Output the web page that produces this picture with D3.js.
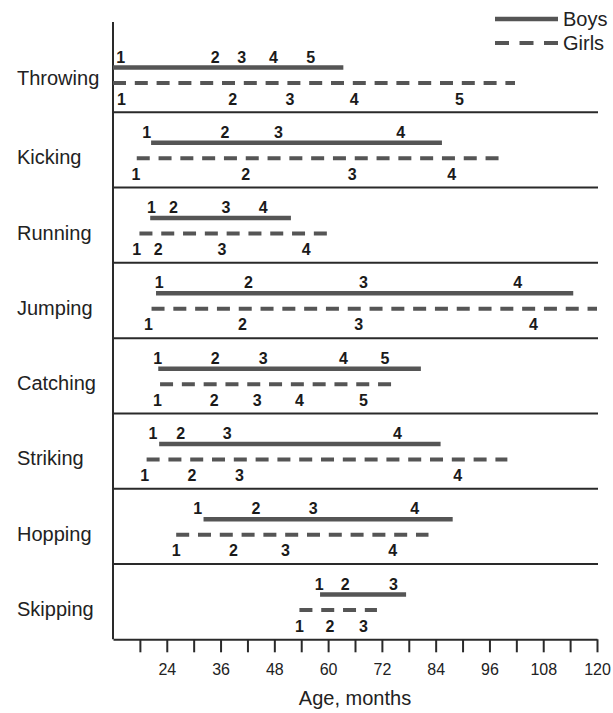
<!DOCTYPE html>
<html>
<head>
<meta charset="utf-8">
<script src="https://cdn.jsdelivr.net/npm/d3@7"></script>
<style>
  html, body { margin: 0; padding: 0; background: #fff; }
  svg { display: block; font-family: "Liberation Sans", Arial, Helvetica, sans-serif; }
</style>
</head>
<body>
<svg id="chart" width="613" height="713"></svg>
<script>
// ---- data (ages in months) ----
const categories = ["Throwing", "Kicking", "Running", "Jumping", "Catching", "Striking", "Hopping", "Skipping"];

const boysStart = [12, 20.5, 20.3, 21.6, 22.1, 22.3, 32.2, 58.2];
const boysEnd   = [63.4, 85.4, 51.7, 114.7, 80.7, 85.1, 87.8, 77.4];
const girlsStart = [12, 17.3, 17.9, 20.6, 22.5, 19.5, 26.1, 53.6];
const girlsEnd   = [101.7, 99.1, 60.4, 120, 74.9, 100, 82.4, 70.9];

const boysStages = [
  [13.7, 34.8, 40.7, 47.8, 56.1],
  [19.5, 37, 48.9, 76.2],
  [20.6, 25.5, 37.2, 45.5],
  [22.3, 42.2, 67.9, 102.3],
  [22, 34.8, 45.5, 63.4, 72.7],
  [20.9, 27.1, 37.5, 75.5],
  [30.9, 43.9, 56.7, 79.3],
  [58, 63.8, 74.6]
];
const girlsStages = [
  [13.9, 38.7, 51.5, 65.8, 89.3],
  [17.1, 41.6, 65.4, 87.6],
  [17.3, 22.1, 36.3, 55.1],
  [19.9, 40.9, 66.8, 105.8],
  [21.9, 34.6, 44.2, 53.6, 67.9],
  [19.1, 29.6, 40.2, 88.9],
  [26.1, 38.9, 50.5, 74.4],
  [53.6, 60.4, 67.9]
];

const tickValues = d3.range(18, 121, 6);
const labeledTicks = [24, 36, 48, 60, 72, 84, 96, 108, 120];
const legendLabels = ["Boys", "Girls"];
const xTitle = "Age, months";

// ---- layout ----
const svg = d3.select("#chart");
const x = d3.scaleLinear().domain([12, 120]).range([113, 597]);
const y = d3.scaleBand().domain(categories).range([37, 639.3]).padding(0);
const axisY = 639.3;
const lineColor = "#555";
const axisColor = "#2a2a2a";

// separators
svg.append("g").selectAll("line")
  .data(categories.slice(1))
  .join("line")
  .attr("x1", 113).attr("x2", 598)
  .attr("y1", d => y(d)).attr("y2", d => y(d))
  .attr("stroke", axisColor).attr("stroke-width", 2);

// left vertical axis line
svg.append("line")
  .attr("x1", 113).attr("x2", 113)
  .attr("y1", 22).attr("y2", axisY)
  .attr("stroke", axisColor).attr("stroke-width", 2);

// bottom axis
const xAxis = d3.axisBottom(x)
  .tickValues(tickValues)
  .tickFormat(d => labeledTicks.includes(d) ? d : "")
  .tickSize(13)
  .tickSizeOuter(0)
  .tickPadding(11.6);

const gx = svg.append("g")
  .attr("transform", `translate(0,${axisY})`)
  .call(xAxis);
gx.select(".domain").attr("stroke", axisColor).attr("stroke-width", 2);
gx.selectAll(".tick line").attr("stroke", axisColor).attr("stroke-width", 2);
gx.selectAll(".tick text")
  .attr("fill", "#222")
  .style("font-size", "16px")
  .style("font-family", "'Liberation Sans', Arial, sans-serif");

svg.append("text")
  .attr("x", x(66)).attr("y", 705)
  .attr("text-anchor", "middle")
  .attr("fill", "#222")
  .style("font-size", "20px")
  .text(xTitle);

// category labels
svg.append("g").selectAll("text")
  .data(categories)
  .join("text")
  .attr("x", 17)
  .attr("y", (d, i) => y(d) + (i === 0 ? 48 : 52))
  .attr("fill", "#222")
  .style("font-size", "20px")
  .text(d => d);

// boys solid lines
svg.append("g").selectAll("line")
  .data(categories)
  .join("line")
  .attr("x1", (d, i) => x(boysStart[i]))
  .attr("x2", (d, i) => x(boysEnd[i]))
  .attr("y1", d => y(d) + 30.5)
  .attr("y2", d => y(d) + 30.5)
  .attr("stroke", lineColor)
  .attr("stroke-width", 4.5);

// girls dashed lines
svg.append("g").selectAll("line")
  .data(categories)
  .join("line")
  .attr("x1", (d, i) => x(girlsStart[i]))
  .attr("x2", (d, i) => x(girlsEnd[i]))
  .attr("y1", d => y(d) + 46)
  .attr("y2", d => y(d) + 46)
  .attr("stroke", lineColor)
  .attr("stroke-width", 4)
  .attr("stroke-dasharray", "13,8.8");

// stage numbers
const numG = svg.append("g")
  .attr("fill", "#1a1a1a")
  .style("font-size", "16px")
  .style("font-weight", "bold")
  .attr("text-anchor", "middle");

categories.forEach((c, i) => {
  boysStages[i].forEach((v, k) => {
    numG.append("text")
      .attr("x", x(v)).attr("y", y(c) + 25.5)
      .text(k + 1);
  });
  girlsStages[i].forEach((v, k) => {
    numG.append("text")
      .attr("x", x(v)).attr("y", y(c) + 67.5)
      .text(k + 1);
  });
});

// legend
const legend = svg.append("g");
legend.append("line")
  .attr("x1", 495).attr("x2", 558).attr("y1", 19).attr("y2", 19)
  .attr("stroke", lineColor).attr("stroke-width", 4.5);
legend.append("line")
  .attr("x1", 495).attr("x2", 558).attr("y1", 43).attr("y2", 43)
  .attr("stroke", lineColor).attr("stroke-width", 4)
  .attr("stroke-dasharray", "14,10.5");
legend.selectAll("text")
  .data(legendLabels)
  .join("text")
  .attr("x", 563)
  .attr("y", (d, i) => 26 + i * 24)
  .attr("fill", "#222")
  .style("font-size", "20px")
  .text(d => d);
</script>
</body>
</html>
